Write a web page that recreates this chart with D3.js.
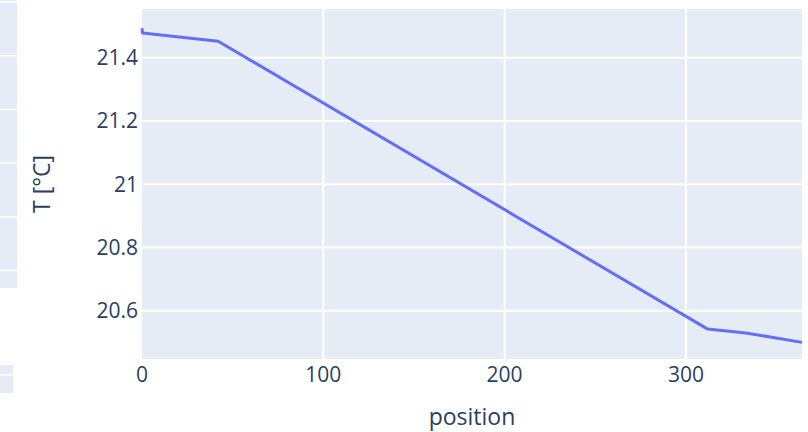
<!DOCTYPE html>
<html>
<head>
<meta charset="utf-8">
<script src="https://cdn.jsdelivr.net/npm/d3@7"></script>
<style>
  html, body { margin: 0; padding: 0; background: #fff; }
  svg { display: block; font-family: "Open Sans", sans-serif; }
</style>
</head>
<body>
<div id="chart"></div>
<script>
// temperature profile along position
const positions = [0, 0.3, 42, 312, 333, 364];
const temps = [21.493, 21.478, 21.452, 20.542, 20.530, 20.500];
const xTicks = [0, 100, 200, 300];
const yTicks = [20.6, 20.8, 21, 21.2, 21.4];

const width = 808, height = 432;
const margin = { top: 9, right: 6, bottom: 73, left: 142 };
const plotW = width - margin.left - margin.right;
const plotH = height - margin.top - margin.bottom;

const svg = d3.select('#chart').append('svg')
  .attr('width', width)
  .attr('height', height);

// leftover strip from a neighbouring panel at the left edge
const strip = svg.append('g');
strip.append('rect').attr('x', 0).attr('y', 0).attr('width', 17).attr('height', 288).attr('fill', '#e5ecf6');
d3.range(6).forEach(i => {
  strip.append('line').attr('x1', 0).attr('x2', 17)
    .attr('y1', 2 + i * 53.7).attr('y2', 2 + i * 53.7)
    .attr('stroke', '#fff').attr('stroke-width', 1.5);
});
strip.append('rect').attr('x', 0).attr('y', 365).attr('width', 13).attr('height', 28).attr('fill', '#e5ecf6');
strip.append('line').attr('x1', 0).attr('x2', 13).attr('y1', 375).attr('y2', 375)
  .attr('stroke', '#fff').attr('stroke-width', 1.5);

const x = d3.scaleLinear().domain([0, 364]).range([0, plotW]);
const y = d3.scaleLinear().domain([20.4475, 21.554]).range([plotH, 0]);

const g = svg.append('g').attr('transform', `translate(${margin.left},${margin.top})`);

g.append('rect').attr('width', plotW).attr('height', plotH).attr('fill', '#e5ecf6');

// grid
g.selectAll('.gx').data(xTicks.filter(d => d > 0)).join('line')
  .attr('x1', d => x(d)).attr('x2', d => x(d))
  .attr('y1', 0).attr('y2', plotH)
  .attr('stroke', '#fff').attr('stroke-width', 2);
g.selectAll('.gy').data(yTicks).join('line')
  .attr('x1', 0).attr('x2', plotW)
  .attr('y1', d => y(d)).attr('y2', d => y(d))
  .attr('stroke', '#fff').attr('stroke-width', 2);

// tick labels
const fmt = d => String(+d.toFixed(1));
g.selectAll('.tx').data(xTicks).join('text')
  .attr('x', d => x(d)).attr('y', plotH + 23)
  .attr('text-anchor', 'middle')
  .attr('fill', '#2a3f5f').style('font-size', '21px')
  .text(fmt);
g.selectAll('.ty').data(yTicks).join('text')
  .attr('x', -4).attr('y', d => y(d) + 7.5)
  .attr('text-anchor', 'end')
  .attr('fill', '#2a3f5f').style('font-size', '21px')
  .text(fmt);

// line
const line = d3.line().x((d, i) => x(positions[i])).y(d => y(d));
g.append('path')
  .datum(temps)
  .attr('d', line)
  .attr('fill', 'none')
  .attr('stroke', '#636efa')
  .attr('stroke-width', 3)
  .attr('stroke-linejoin', 'round');

// axis titles
svg.append('text')
  .attr('x', margin.left + plotW / 2).attr('y', 425)
  .attr('text-anchor', 'middle')
  .attr('fill', '#2a3f5f').style('font-size', '23px')
  .text('position');
svg.append('text')
  .attr('transform', `translate(50,${margin.top + plotH / 2}) rotate(-90)`)
  .attr('text-anchor', 'middle')
  .attr('fill', '#2a3f5f').style('font-size', '23px')
  .text('T [°C]');
</script>
</body>
</html>
